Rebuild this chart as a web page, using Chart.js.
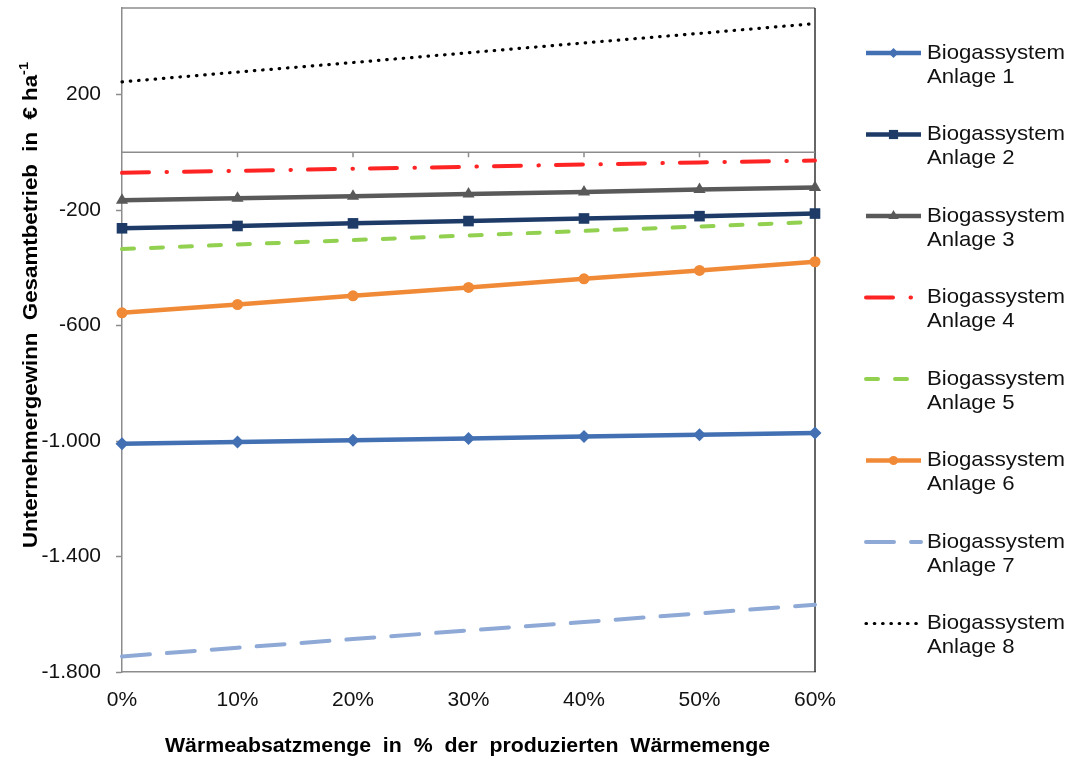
<!DOCTYPE html>
<html>
<head>
<meta charset="utf-8">
<title>Unternehmergewinn Biogassysteme</title>
<script src="https://cdn.jsdelivr.net/npm/chart.js@4.4.1/dist/chart.umd.min.js"></script>
<style>
  html, body { margin: 0; padding: 0; background: #fff; }
  #wrap { width: 1069px; height: 760px; position: relative; }
</style>
</head>
<body>
<div id="wrap"><canvas id="chart"></canvas></div>
<script>
// Wärmeabsatz in % (x axis)
const xLabels = ['0%', '10%', '20%', '30%', '40%', '50%', '60%'];

// Unternehmergewinn in € / ha for each plant
const anlage1 = [-1009, -1003, -997, -991, -984, -978, -972];
const anlage2 = [-263, -255, -246, -238, -229, -221, -212];
const anlage3 = [-166, -159, -152, -144, -137, -129, -122];
const anlage4 = [-71, -64, -57, -50, -42, -35, -28];
const anlage5 = [-335, -319, -304, -288, -272, -257, -241];
const anlage6 = [-556, -527, -497, -468, -438, -409, -379];
const anlage7 = [-1746, -1716, -1686, -1656, -1627, -1597, -1567];
const anlage8 = [244, 278, 311, 345, 379, 412, 446];

const yTicks = [-1800, -1400, -1000, -600, -200, 200];

const FONT = '"Liberation Sans", Arial, sans-serif';
Chart.defaults.font.family = FONT;
Chart.defaults.color = '#111';

// German thousands separator: -1800 -> -1.800
function fmt(v) {
  const s = Math.abs(v).toString().replace(/\B(?=(\d{3})+(?!\d))/g, '.');
  return (v < 0 ? '-' : '') + s;
}

function series(label, data, color, extra) {
  return Object.assign({
    label: label,
    data: data,
    borderColor: color,
    backgroundColor: color,
    borderWidth: 4.5,
    pointRadius: 0,
    pointHoverRadius: 0,
    pointBorderWidth: 0,
    tension: 0,
    clip: false,
    legendRadius: 0
  }, extra || {});
}

const datasets = [
  series('Anlage 1', anlage1, '#4270B2', { pointStyle: 'rectRot', pointRadius: 6.5, legendRadius: 5 }),
  series('Anlage 2', anlage2, '#1D3B66', { pointStyle: 'rect', pointRadius: 7.5, legendRadius: 6.5 }),
  series('Anlage 3', anlage3, '#595959', { pointStyle: 'triangle', pointRadius: 7, legendRadius: 6 }),
  series('Anlage 4', anlage4, '#FF2424', { borderWidth: 4, borderDash: [27, 17.5, 0.5, 17], borderCapStyle: 'round' }),
  series('Anlage 5', anlage5, '#92D050', { borderWidth: 4, borderDash: [12, 17], borderCapStyle: 'round' }),
  series('Anlage 6', anlage6, '#F08A37', { pointStyle: 'circle', pointRadius: 5.5, legendRadius: 4.5 }),
  series('Anlage 7', anlage7, '#8EA9D6', { borderWidth: 4, borderDash: [28, 17], borderCapStyle: 'round' }),
  series('Anlage 8', anlage8, '#000000', { borderWidth: 3.2, borderDash: [0.5, 7.8], borderCapStyle: 'round' })
];

// text squeezed/stretched horizontally by factor k
function drawScaled(ctx, text, x, y, k) {
  ctx.save();
  ctx.translate(x, y);
  ctx.scale(k, 1);
  ctx.fillText(text, 0, 0);
  ctx.restore();
}

// frame, zero line with category ticks, axis titles
const framePlugin = {
  id: 'frame',
  beforeDatasetsDraw(chart) {
    const { ctx, chartArea: a, scales } = chart;
    ctx.save();
    ctx.lineWidth = 1.5;
    ctx.strokeStyle = '#8C8C8C';
    ctx.beginPath();
    ctx.moveTo(a.left, a.top);
    ctx.lineTo(a.right, a.top);
    ctx.stroke();
    ctx.strokeStyle = '#333';
    ctx.beginPath();
    ctx.moveTo(a.right, a.top);
    ctx.lineTo(a.right, a.bottom);
    ctx.stroke();

    const y0 = scales.y.getPixelForValue(0);
    ctx.strokeStyle = '#8C8C8C';
    ctx.beginPath();
    ctx.moveTo(a.left, y0);
    ctx.lineTo(a.right, y0);
    for (let i = 1; i < xLabels.length - 1; i++) {
      const x = scales.x.getPixelForValue(i);
      ctx.moveTo(x, y0);
      ctx.lineTo(x, y0 + 5);
    }
    ctx.stroke();
    ctx.restore();
  },
  afterDraw(chart) {
    const { ctx, chartArea: a } = chart;
    ctx.save();
    ctx.fillStyle = '#000';
    ctx.font = 'bold 20px ' + FONT;
    ctx.textAlign = 'center';
    ctx.textBaseline = 'middle';
    const xt = 'Wärmeabsatzmenge  in  %  der  produzierten  Wärmemenge';
    drawScaled(ctx, xt, (a.left + a.right) / 2 - 1, 746, 605 / ctx.measureText(xt).width);

    // rotated y title with superscript
    ctx.translate(31, 305);
    ctx.rotate(-Math.PI / 2);
    const main = 'Unternehmergewinn  Gesamtbetrieb  in  € ha';
    ctx.font = 'bold 20px ' + FONT;
    const wMain = ctx.measureText(main).width;
    ctx.font = 'bold 13px ' + FONT;
    const wSup = ctx.measureText('-1').width;
    const k = 486 / (wMain + wSup);
    ctx.scale(k, 1);
    const x0 = -(wMain + wSup) / 2;
    ctx.textAlign = 'left';
    ctx.font = 'bold 20px ' + FONT;
    ctx.fillText(main, x0, 0);
    ctx.font = 'bold 13px ' + FONT;
    ctx.fillText('-1', x0 + wMain, -7);
    ctx.restore();
  }
};

// legend on the right, two lines per entry
const sideLegend = {
  id: 'sideLegend',
  afterDraw(chart) {
    const ctx = chart.ctx;
    chart.data.datasets.forEach((ds, i) => {
      const y = 53 + i * 81.5;
      ctx.save();
      ctx.strokeStyle = ds.borderColor;
      ctx.lineWidth = ds.borderWidth;
      ctx.lineCap = ds.borderCapStyle || 'butt';
      ctx.setLineDash(ds.borderDash || []);
      ctx.beginPath();
      ctx.moveTo(866, y);
      ctx.lineTo(921, y);
      ctx.stroke();
      ctx.setLineDash([]);
      if (ds.legendRadius) {
        ctx.fillStyle = ds.borderColor;
        ctx.strokeStyle = ds.borderColor;
        Chart.helpers.drawPoint(ctx, { pointStyle: ds.pointStyle, radius: ds.legendRadius, rotation: 0, borderWidth: 0 }, 893.5, y);
      }
      ctx.fillStyle = '#111';
      ctx.font = '21px ' + FONT;
      ctx.textAlign = 'left';
      ctx.textBaseline = 'middle';
      const k = 138 / ctx.measureText('Biogassystem').width;
      drawScaled(ctx, 'Biogassystem', 927, y, k);
      drawScaled(ctx, ds.label, 927, y + 24, k);
      ctx.restore();
    });
  }
};

new Chart(document.getElementById('chart'), {
  type: 'line',
  data: { labels: xLabels, datasets: datasets },
  options: {
    responsive: true,
    maintainAspectRatio: false,
    devicePixelRatio: 1,
    animation: false,
    layout: { padding: { top: 8, right: 254, left: 0, bottom: 0 } },
    plugins: {
      legend: { display: false },
      tooltip: { enabled: false }
    },
    scales: {
      x: {
        type: 'category',
        offset: false,
        afterFit(s) { s.height = 88; },
        grid: { drawOnChartArea: false, drawTicks: false },
        border: { color: '#8C8C8C', width: 1.5 },
        ticks: { font: { size: 21 }, color: '#111', padding: 16, maxRotation: 0 }
      },
      y: {
        min: -1800,
        max: 500,
        afterFit(s) { s.width = 122; s.paddingTop = 0; s.paddingBottom = 0; },
        afterBuildTicks(s) { s.ticks = yTicks.map(v => ({ value: v })); },
        grid: { drawOnChartArea: false, tickLength: 6, color: '#8C8C8C', tickWidth: 1.5 },
        border: { color: '#8C8C8C', width: 1.5 },
        ticks: { font: { size: 21 }, color: '#111', padding: 15, callback: v => fmt(v) }
      }
    }
  },
  plugins: [framePlugin, sideLegend]
});
</script>
</body>
</html>
